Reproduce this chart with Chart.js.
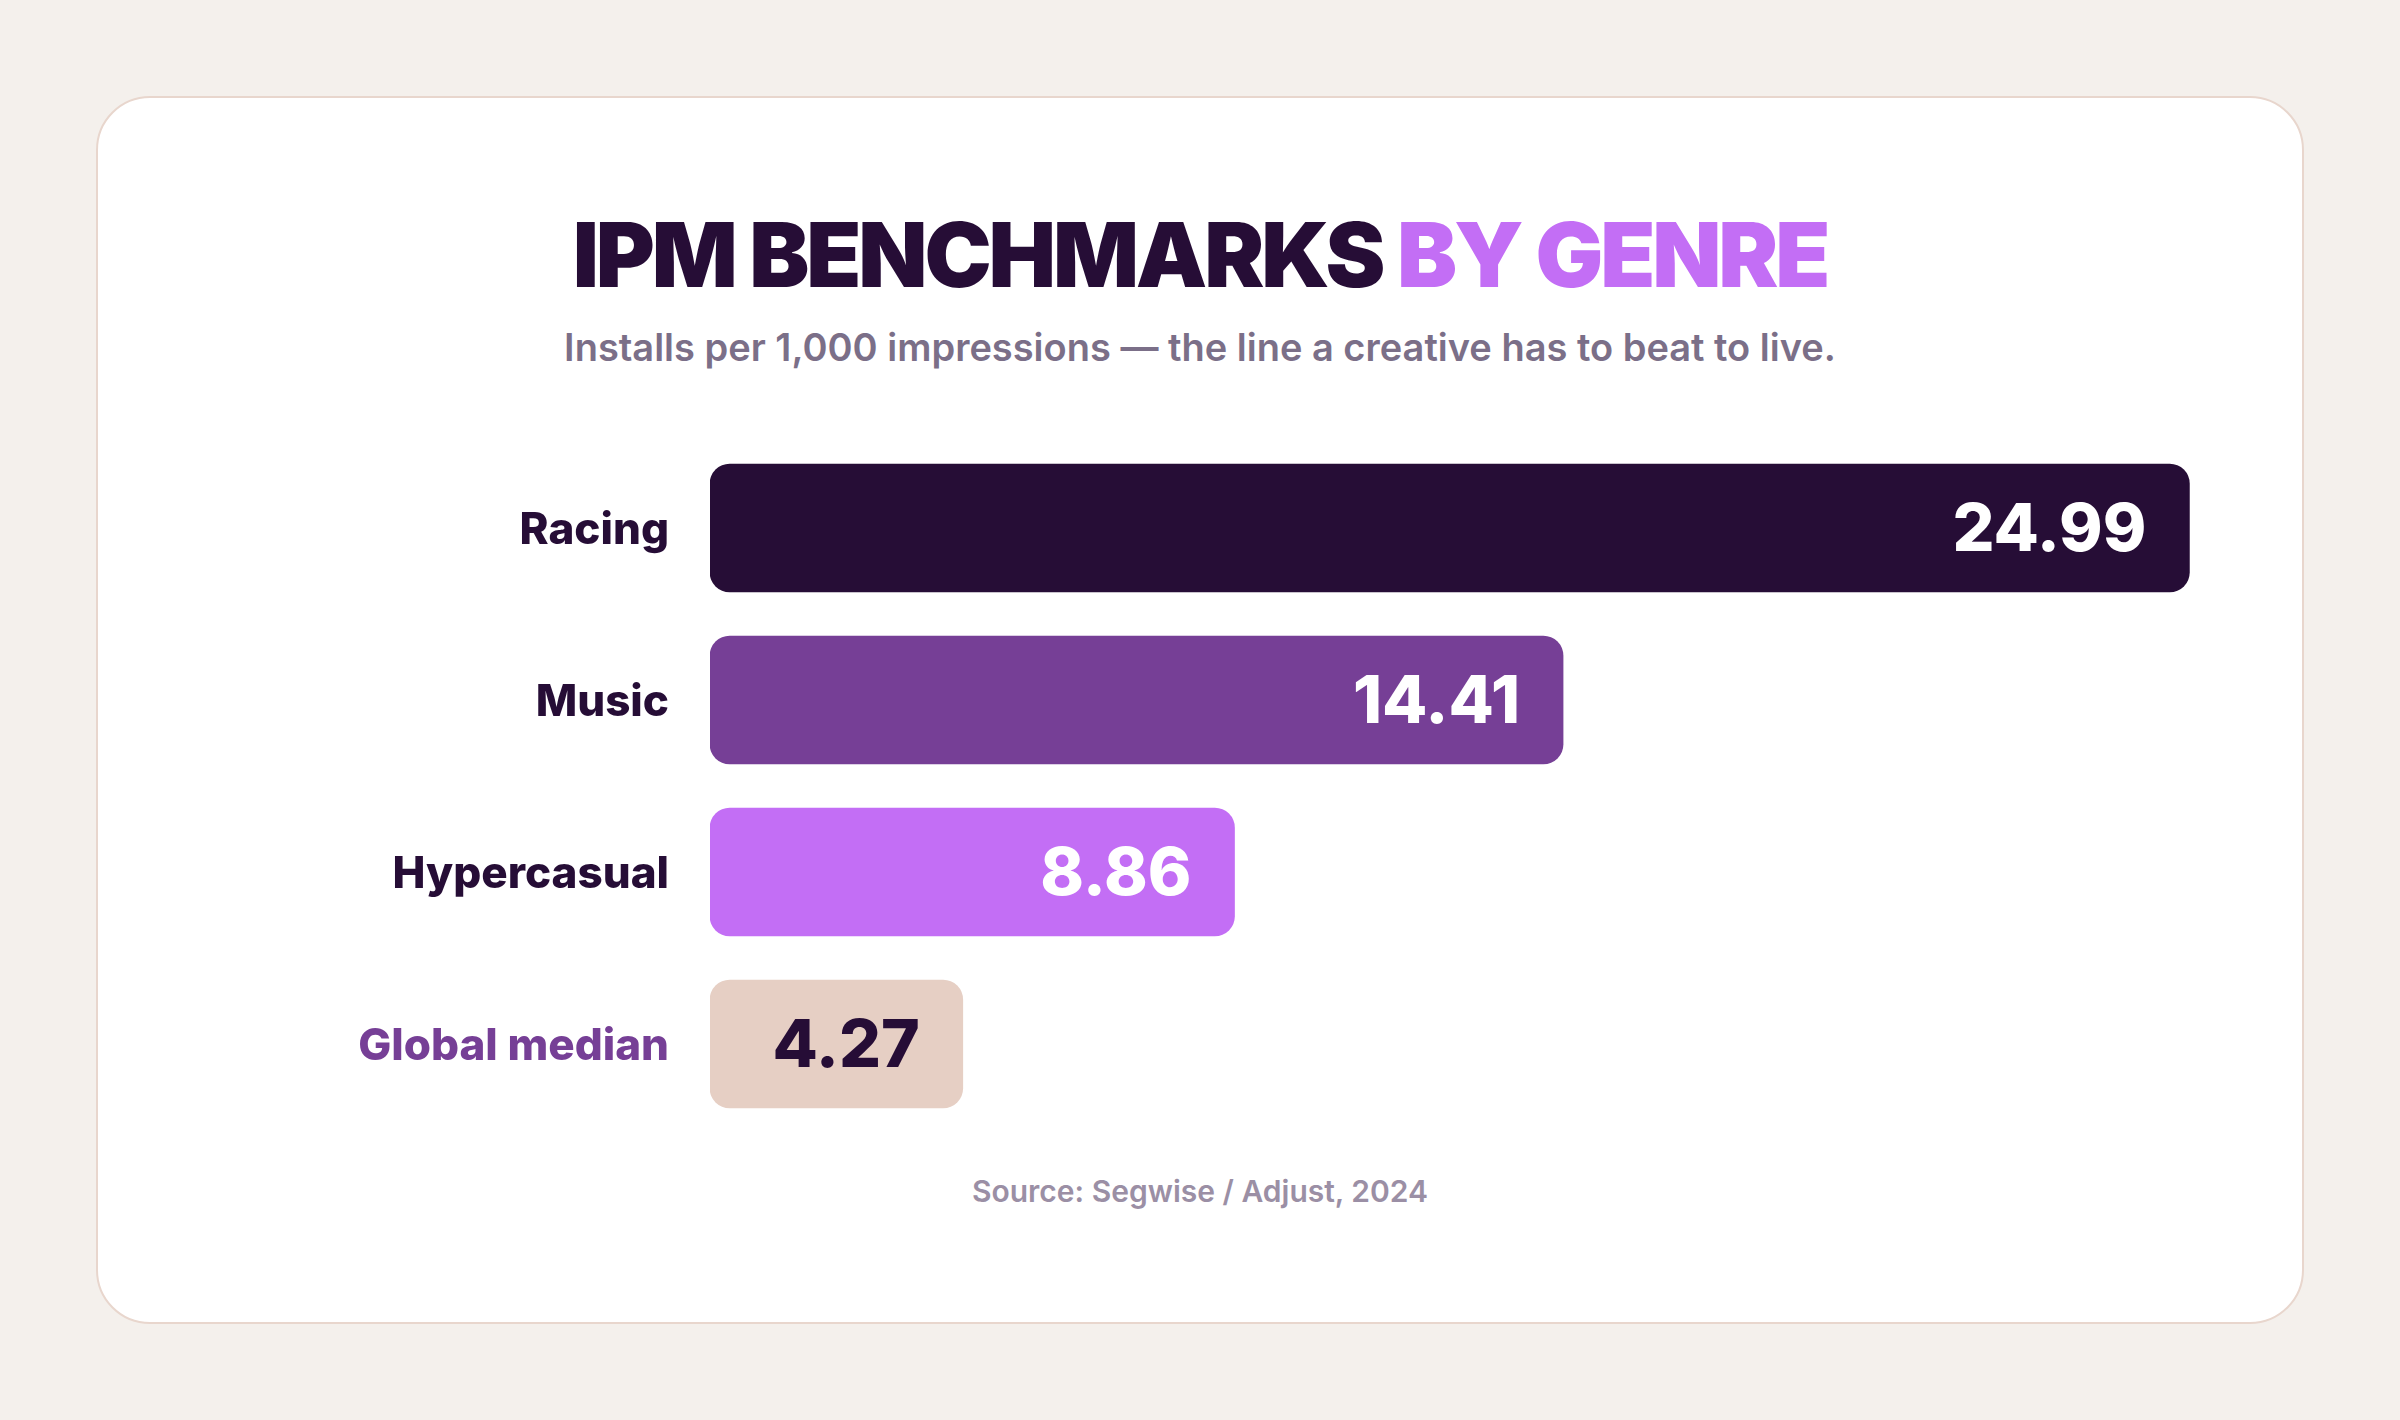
<!DOCTYPE html>
<html>
<head>
<meta charset="utf-8">
<script src="https://cdn.jsdelivr.net/npm/chart.js@4.4.1/dist/chart.umd.min.js"></script>
<style>
  html, body { margin:0; padding:0; width:2400px; height:1420px; background:#f4f0ec; overflow:hidden; font-family: Inter, "Noto Sans", sans-serif; }
  #card { position:absolute; left:96px; top:96px; width:2204px; height:1224px; background:#ffffff; border:2px solid #e8d6cd; border-radius:54px; }
  .t { position:absolute; left:0; width:2400px; text-align:center; line-height:1; white-space:nowrap; }
  #title { top:210px; font-size:90px; font-weight:900; color:#260d36; letter-spacing:-0.035em; }
  #title span { color:#c36ef5; }
  #sub { top:328px; font-size:38px; font-weight:600; color:#7b6f88; }
  #src { top:1176px; font-size:30px; font-weight:600; color:#9b8fa5; }
  #c { position:absolute; left:0; top:0; }
</style>
</head>
<body>
<div id="card"></div>
<div class="t" id="title">IPM BENCHMARKS <span>BY GENRE</span></div>
<div class="t" id="sub">Installs per 1,000 impressions — the line a creative has to beat to live.</div>
<div class="t" id="src">Source: Segwise / Adjust, 2024</div>
<canvas id="c" width="2400" height="1420"></canvas>
<script>
const categories = ["Racing", "Music", "Hypercasual", "Global median"];
const ipmValues = [24.99, 14.41, 8.86, 4.27];
const valueLabels = ["24.99", "14.41", "8.86", "4.27"];
const barColors = ["#260d36", "#763f96", "#c36ef5", "#e6cfc4"];
const valueTextColors = ["#ffffff", "#ffffff", "#ffffff", "#260d36"];
const tickColors = ["#260d36", "#260d36", "#260d36", "#763f96"];

const valuePlugin = {
  id: 'valueLabels',
  afterDatasetsDraw(chart) {
    const ctx = chart.ctx;
    const meta = chart.getDatasetMeta(0);
    ctx.save();
    ctx.font = '800 66px Inter';
    ctx.textAlign = 'right';
    ctx.textBaseline = 'alphabetic';
    meta.data.forEach((bar, i) => {
      ctx.fillStyle = valueTextColors[i];
      ctx.fillText(valueLabels[i], bar.x - 43, bar.y + 23);
    });
    ctx.restore();
  }
};

new Chart(document.getElementById('c'), {
  type: 'bar',
  data: {
    labels: categories,
    datasets: [{
      data: ipmValues,
      backgroundColor: barColors,
      borderRadius: 20,
      borderSkipped: false,
      barThickness: 128
    }]
  },
  options: {
    indexAxis: 'y',
    responsive: false,
    animation: false,
    events: [],
    layout: { padding: { left: 0, right: 210, top: 442, bottom: 290 } },
    plugins: { legend: { display: false }, tooltip: { enabled: false } },
    scales: {
      x: { display: false, min: 0, max: 25 },
      y: {
        grid: { display: false, drawTicks: false },
        border: { display: false },
        ticks: {
          padding: 41,
          labelOffset: 3,
          color: (c) => tickColors[c.index],
          font: { family: 'Inter', size: 44, weight: '800' }
        },
        afterFit(scale) { scale.width = 710; }
      }
    }
  },
  plugins: [valuePlugin]
});
</script>
</body>
</html>
